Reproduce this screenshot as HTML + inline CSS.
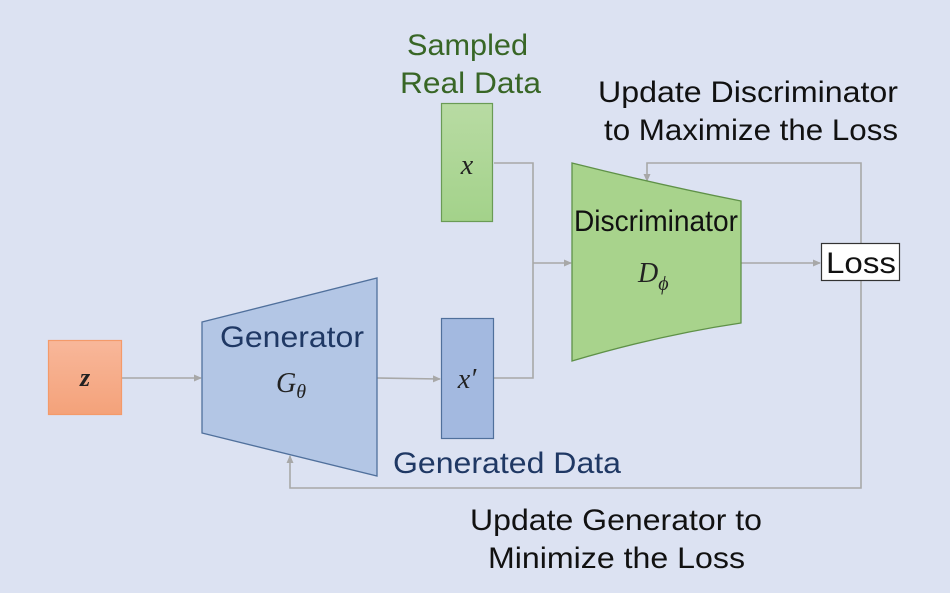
<!DOCTYPE html>
<html><head><style>
html,body{margin:0;padding:0;background:#dce2f2;}
svg{display:block;}
text{font-family:"Liberation Sans",Arial,sans-serif;}
.m{font-family:"Liberation Serif",serif;font-style:italic;}
</style></head><body>
<svg width="950" height="593" viewBox="0 0 950 593" xmlns="http://www.w3.org/2000/svg">
<defs>
<linearGradient id="gz" x1="0" y1="0" x2="0" y2="1"><stop offset="0" stop-color="#f8b79a"/><stop offset="1" stop-color="#f4a27a"/></linearGradient>
<linearGradient id="gx" x1="0" y1="0" x2="0" y2="1"><stop offset="0" stop-color="#b8dba3"/><stop offset="1" stop-color="#a3d28a"/></linearGradient>
<marker id="a" markerWidth="8" markerHeight="8" refX="7" refY="4" orient="auto" markerUnits="userSpaceOnUse"><path d="M0,0.5 L8,4 L0,7.5 Z" fill="#a8a8a8"/></marker>
</defs>
<rect width="950" height="593" fill="#dce2f2"/>
<g stroke="#a8a8a8" stroke-width="1.6" fill="none">
<line x1="122" y1="378" x2="201" y2="378" marker-end="url(#a)"/>
<line x1="377" y1="378" x2="440" y2="379" marker-end="url(#a)"/>
<polyline points="494,163 533,163 533,378 494,378"/>
<line x1="533" y1="263" x2="571" y2="263" marker-end="url(#a)"/>
<line x1="741" y1="263" x2="820" y2="263" marker-end="url(#a)"/>
<polyline points="861,243 861,163 647,163 647,181" marker-end="url(#a)"/>
<polyline points="861,281 861,488 290,488 290,456" marker-end="url(#a)"/>
</g>
<rect x="48.5" y="340.5" width="73" height="74" fill="url(#gz)" stroke="#f49a6a" stroke-width="1.2"/>
<text x="85" y="386" class="m" font-size="26" font-weight="bold" text-anchor="middle" fill="#222">z</text>
<polygon points="202,322 377,278 377,476 202,433" fill="#b3c6e5" stroke="#50709c" stroke-width="1.3"/>
<text x="220" y="347" font-size="30" textLength="144" lengthAdjust="spacingAndGlyphs" fill="#1f3864">Generator</text>
<text x="276" y="392" class="m" font-size="28" fill="#222">G<tspan font-size="20" dy="6">θ</tspan></text>
<rect x="441.5" y="318.5" width="52" height="120" fill="#a3b9e0" stroke="#50709c" stroke-width="1.2"/>
<text x="467" y="388" class="m" font-size="28" text-anchor="middle" fill="#222">x′</text>
<rect x="441.5" y="103.5" width="51" height="118" fill="url(#gx)" stroke="#6a9b55" stroke-width="1.2"/>
<text x="467" y="174" class="m" font-size="28" text-anchor="middle" fill="#222">x</text>
<path d="M572,163 Q660,185 741,201 L741,323 Q660,335 572,361 Z" fill="#a8d38c" stroke="#5f9148" stroke-width="1.3"/>
<text x="574" y="231" font-size="30" textLength="164" lengthAdjust="spacingAndGlyphs" fill="#111">Discriminator</text>
<text x="638" y="282" class="m" font-size="28" fill="#222">D<tspan font-size="20" dy="8">ϕ</tspan></text>
<rect x="821.5" y="243.5" width="78" height="37" fill="#fff" stroke="#333" stroke-width="1.2"/>
<text x="826" y="273" font-size="30" textLength="70" lengthAdjust="spacingAndGlyphs" fill="#111">Loss</text>
<text x="407" y="55" font-size="30" textLength="121" lengthAdjust="spacingAndGlyphs" fill="#386626">Sampled</text>
<text x="400" y="93" font-size="30" textLength="141" lengthAdjust="spacingAndGlyphs" fill="#386626">Real Data</text>
<text x="393" y="473" font-size="30" textLength="228" lengthAdjust="spacingAndGlyphs" fill="#1f3864">Generated Data</text>
<text x="598" y="102" font-size="30" textLength="300" lengthAdjust="spacingAndGlyphs" fill="#111">Update Discriminator</text>
<text x="604" y="140" font-size="30" textLength="294" lengthAdjust="spacingAndGlyphs" fill="#111">to Maximize the Loss</text>
<text x="470" y="530" font-size="30" textLength="292" lengthAdjust="spacingAndGlyphs" fill="#111">Update Generator to</text>
<text x="488" y="568" font-size="30" textLength="257" lengthAdjust="spacingAndGlyphs" fill="#111">Minimize the Loss</text>
</svg>
</body></html>
